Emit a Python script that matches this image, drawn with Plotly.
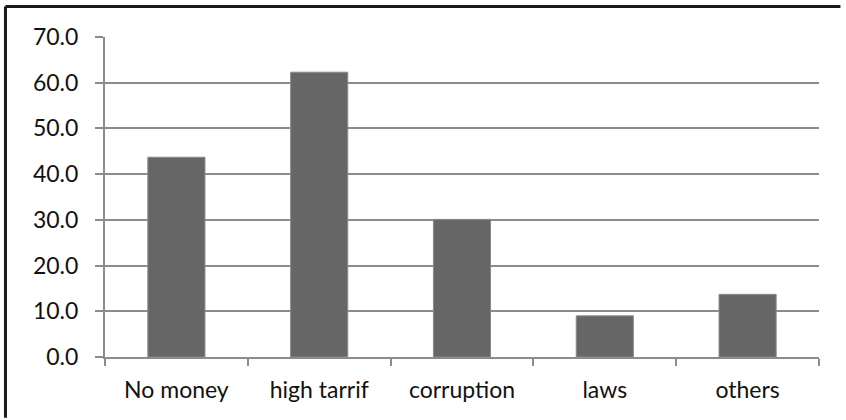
import plotly.graph_objects as go

# Reasons given, with the share of respondents (%)
categories = ["No money", "high tarrif", "corruption", "laws", "others"]
values = [43.7, 62.3, 30.1, 9.0, 13.7]
y_ticks = [0, 10, 20, 30, 40, 50, 60, 70]
y_tick_labels = [f"{v:.1f}" for v in y_ticks]

fig = go.Figure(
    go.Bar(
        x=categories,
        y=values,
        width=0.4,
        marker=dict(color="#666666", line=dict(color="#8a8a8a", width=1)),
        hoverinfo="x+y",
    )
)

font = dict(family="Lato, Carlito, 'Open Sans', sans-serif", size=23, color="#111111")

# chart frame: only its left and top edges fall inside the figure
# (kept just inside the page so nothing overflows)
frame_left = -0.1394
frame_top = 1.0953
frame_line = dict(color="#1a1a1a", width=3)

fig.update_layout(
    width=846,
    height=420,
    margin=dict(l=105, r=27, t=37, b=63),
    paper_bgcolor="white",
    plot_bgcolor="white",
    showlegend=False,
    font=font,
    bargap=0.6,
    xaxis=dict(
        type="category",
        showline=True,
        linecolor="#8c8c8c",
        linewidth=2,
        ticks="outside",
        tickson="boundaries",
        ticklen=7,
        tickwidth=2,
        tickcolor="#8c8c8c",
        showgrid=False,
        ticklabelstandoff=11,
        tickfont=font,
    ),
    yaxis=dict(
        range=[0, 70],
        tickvals=y_ticks,
        ticktext=y_tick_labels,
        showline=True,
        linecolor="#8c8c8c",
        linewidth=2,
        ticks="outside",
        ticklen=8,
        tickwidth=2,
        tickcolor="#8c8c8c",
        showgrid=True,
        gridcolor="#8c8c8c",
        gridwidth=2,
        zeroline=False,
        ticklabelstandoff=12,
        tickfont=font,
    ),
    shapes=[
        dict(type="line", xref="paper", yref="paper",
             x0=frame_left, x1=frame_left, y0=-0.19, y1=frame_top,
             line=frame_line, layer="above"),
        dict(type="line", xref="paper", yref="paper",
             x0=frame_left, x1=1.03, y0=frame_top, y1=frame_top,
             line=frame_line, layer="above"),
    ],
)

fig.write_html("out.html")
